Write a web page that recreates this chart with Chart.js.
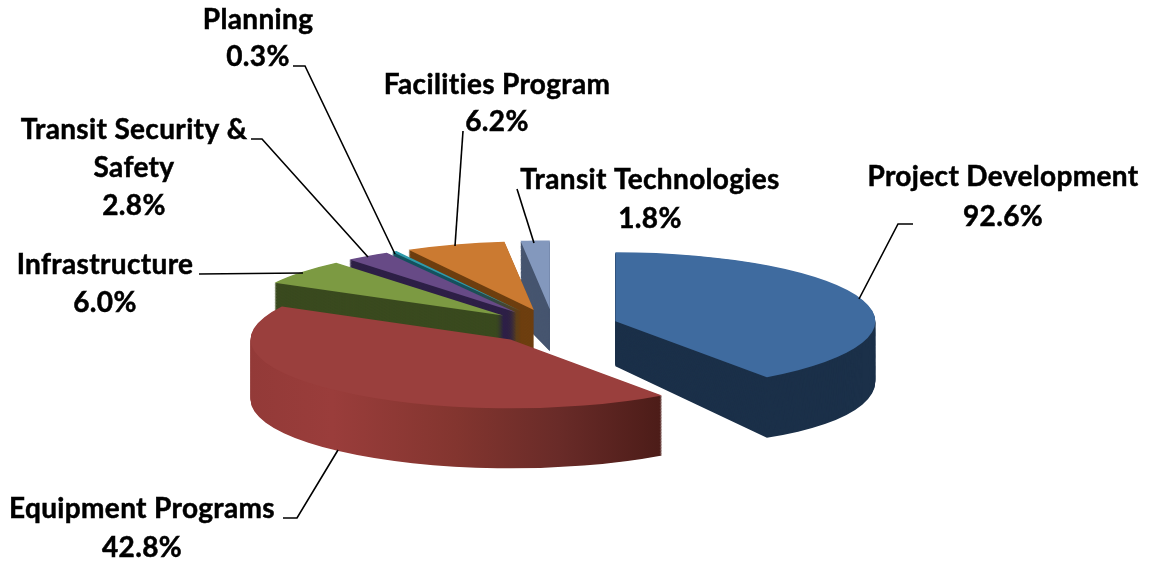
<!DOCTYPE html>
<html>
<head>
<meta charset="utf-8">
<script src="https://cdn.jsdelivr.net/npm/chart.js@4"></script>
<style>html,body{margin:0;padding:0;background:#fff}canvas{display:block}</style>
</head>
<body>
<canvas id="c" width="1152" height="562"></canvas>
<script>
// Data
const categories = ['Project Development','Equipment Programs','Infrastructure','Transit Security & Safety','Planning','Facilities Program','Transit Technologies'];
const sliceShares = [40.1, 42.8, 6.0, 2.8, 0.3, 6.2, 1.8];
const shownPercents = ['92.6%','42.8%','6.0%','2.8%','0.3%','6.2%','1.8%'];
const topColors = ['#3f6b9f','#9a3f3d','#7c9a42','#674a86','#2f9bab','#cb7a31','#8398bd'];
const wallColors = ['#1b3049','#9b3d3b','#3a4a1f','#2e2047','#15525f','#6e3f10','#46556f'];

// Layout of the drawing (not data)
const pieCfg = {cx:553.5, cy:326.5, radius:260, tilt:0.265, explode:65,
  paintOrder:[6,5,4,3,2,0,1],
  // wall depth at the apex, and its growth with screen dx / dy from the apex
  wallShape:[[45,0.058,0.12],[60,0,0],[60,0,0],[60,0,0],[60,0,0],[60,0,0],[42,0,-0.56]]};
const labelCfg = [
  {lines:['Project Development'], x:1003, y:[177,217], leader:[[913,224],[898,224],[859,299]]},
  {lines:['Equipment Programs'], x:142, y:[509,548], leader:[[283,518],[297,518],[338,450]]},
  {lines:['Infrastructure'], x:105, y:[265,303], leader:[[199,274],[303,273]]},
  {lines:['Transit Security &','Safety'], x:134, y:[130,168,206], leader:[[251,139],[262,139],[368,257]]},
  {lines:['Planning'], x:258, y:[20,57], leader:[[293,66],[305,66],[395,254]]},
  {lines:['Facilities Program'], x:497, y:[85,122], leader:[[463,131],[455,246]]},
  {lines:['Transit Technologies'], x:650, y:[180,219], leader:[[517,189],[534,243]]}
];

function redWallGradient(ctx, arc, ax){
  const toLocal = s => s - ax + arc.x;
  const g = ctx.createLinearGradient(toLocal(250),0,toLocal(662),0);
  g.addColorStop(0,'#933a38');
  g.addColorStop(0.2,'#9a3d3b');
  g.addColorStop(0.5,'#83352f');
  g.addColorStop(0.75,'#692b28');
  g.addColorStop(1,'#4c1c18');
  return g;
}

const pie3d = {
  id:'pie3d',
  beforeDatasetsDraw(chart){
    const ctx = chart.ctx;
    const arcs = chart.getDatasetMeta(0).data;
    pieCfg.paintOrder.forEach(i=>{
      const arc = arcs[i];
      const mid = (arc.startAngle+arc.endAngle)/2;
      const ax = pieCfg.cx + Math.cos(mid)*pieCfg.explode;
      const ay = pieCfg.cy + Math.sin(mid)*pieCfg.explode*pieCfg.tilt;
      const base = arc.options;
      const [d0,a,b] = pieCfg.wallShape[i];
      const wall = i===1 ? redWallGradient(ctx,arc,ax) : wallColors[i];
      arc.options = Object.assign({},base,{backgroundColor:wall});
      const steps = Math.ceil(d0+20);
      for(let n=steps;n>=1;n--){
        const s=n/steps;
        ctx.save();
        ctx.translate(ax,ay);
        ctx.transform(1,s*a,0,1+s*b,0,s*d0);
        ctx.scale(1,pieCfg.tilt);
        ctx.translate(-arc.x,-arc.y);
        arc.draw(ctx);
        ctx.restore();
      }
      arc.options = base;
      ctx.save();
      ctx.translate(ax,ay);
      ctx.scale(1,pieCfg.tilt);
      ctx.translate(-arc.x,-arc.y);
      arc.draw(ctx);
      ctx.restore();
    });
    return false;
  },
  afterDraw(chart){
    const ctx = chart.ctx;
    ctx.save();
    ctx.fillStyle='#000';
    ctx.strokeStyle='#000';
    ctx.font='bold 28px Lato, "Open Sans", sans-serif';
    ctx.letterSpacing='0.35px';
    ctx.textAlign='center';
    ctx.textBaseline='middle';
    labelCfg.forEach((l,i)=>{
      const rows = l.lines.concat(shownPercents[i]);
      ctx.lineWidth=0.5;
      rows.forEach((t,r)=>{ctx.fillText(t,l.x,l.y[r]);ctx.strokeText(t,l.x,l.y[r]);});
      ctx.lineWidth=1.6;
      ctx.beginPath();
      l.leader.forEach((p,j)=> j? ctx.lineTo(p[0],p[1]) : ctx.moveTo(p[0],p[1]));
      ctx.stroke();
    });
    ctx.restore();
  }
};

new Chart(document.getElementById('c').getContext('2d'),{
  type:'pie',
  data:{labels:categories,datasets:[{data:sliceShares,backgroundColor:topColors,borderWidth:0,radius:pieCfg.radius}]},
  options:{
    responsive:false,
    animation:false,
    radius:pieCfg.radius,
    plugins:{legend:{display:false},tooltip:{enabled:false}},
    events:[]
  },
  plugins:[pie3d]
});
</script>
</body>
</html>
